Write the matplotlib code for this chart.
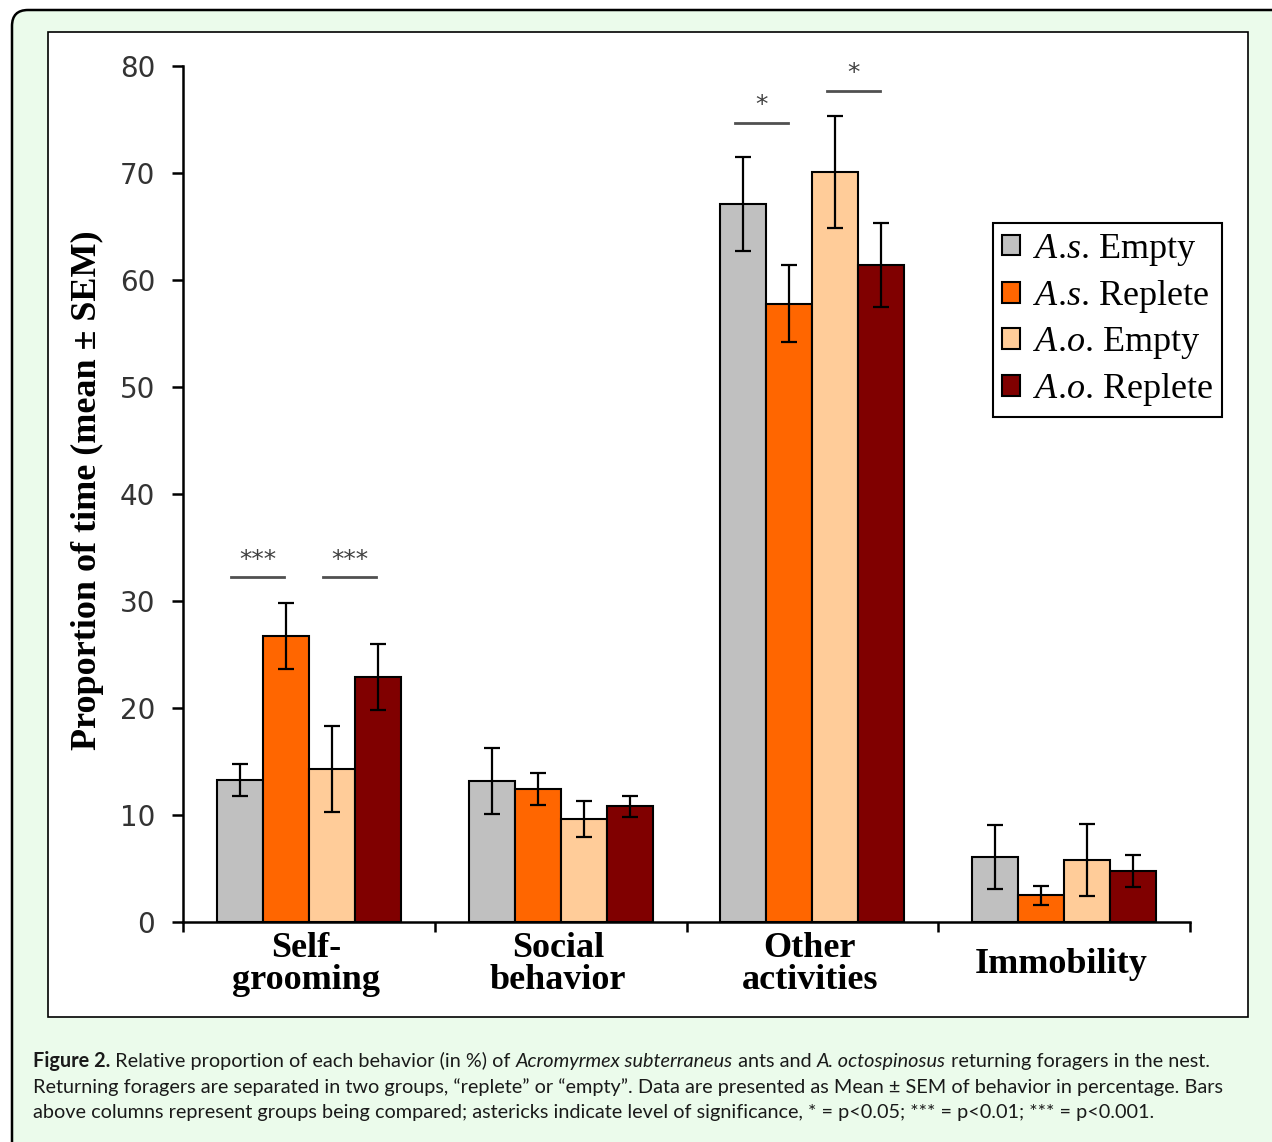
import numpy as np
import matplotlib.pyplot as plt
from matplotlib.patches import FancyBboxPatch, Rectangle
from matplotlib.transforms import IdentityTransform, blended_transform_factory

plt.rcParams['mathtext.fontset'] = 'custom'
plt.rcParams['mathtext.rm'] = 'Liberation Serif'
plt.rcParams['mathtext.it'] = 'Liberation Serif:italic'

# data
groups = ['Self-\ngrooming', 'Social\nbehavior', 'Other\nactivities', 'Immobility']
series = [r'$\mathit{A}$.$\mathit{s}$. Empty', r'$\mathit{A}$.$\mathit{s}$. Replete',
          r'$\mathit{A}$.$\mathit{o}$. Empty', r'$\mathit{A}$.$\mathit{o}$. Replete']
colors = ['#c0c0c0', '#ff6600', '#ffcc99', '#800000']

as_empty = [13.3, 13.2, 67.1, 6.1]
as_empty_err = [1.5, 3.1, 4.4, 3.0]
as_replete = [26.7, 12.4, 57.8, 2.5]
as_replete_err = [3.1, 1.5, 3.6, 0.9]
ao_empty = [14.3, 9.6, 70.1, 5.8]
ao_empty_err = [4.0, 1.7, 5.2, 3.4]
ao_replete = [22.9, 10.8, 61.4, 4.8]
ao_replete_err = [3.1, 1.0, 3.9, 1.5]

# significance bars: group, first bar, second bar, height, stars
sig_group = [0, 0, 2, 2]
sig_first = [0, 2, 0, 2]
sig_second = [1, 3, 1, 3]
sig_height = [32.2, 32.2, 74.7, 77.7]
sig_label = ['***', '***', '*', '*']

W, H = 1272, 1142
fig = plt.figure(figsize=(W / 100, H / 100), dpi=100)
fig.patch.set_facecolor('white')

bg = FancyBboxPatch((12, -40), 1320, H - 10 + 40,
                    boxstyle='round,pad=0,rounding_size=16',
                    transform=IdentityTransform(),
                    facecolor='#ebfbeb', edgecolor='black', lw=1.8, zorder=-3)
fig.add_artist(bg)
panel = Rectangle((48 / W, 1 - 1017 / H), 1200 / W, 985 / H,
                  transform=fig.transFigure, facecolor='white',
                  edgecolor='black', lw=1.2, zorder=-2)
fig.add_artist(panel)

ax = fig.add_axes([183 / W, 1 - 922 / H, 1007 / W, 856 / H])
ax.patch.set_visible(False)

vals = [as_empty, as_replete, ao_empty, ao_replete]
errs = [as_empty_err, as_replete_err, ao_empty_err, ao_replete_err]
x = np.arange(len(groups))
bw = 0.1825
for i in range(4):
    pos = x + (i - 1.5) * bw
    ax.bar(pos, vals[i], bw, yerr=errs[i], color=colors[i],
           edgecolor='black', linewidth=1.5, label=series[i], zorder=2,
           error_kw=dict(ecolor='black', elinewidth=1.6, capsize=6,
                         capthick=1.6, zorder=3))

for k in range(len(sig_group)):
    c1 = x[sig_group[k]] + (sig_first[k] - 1.5) * bw
    c2 = x[sig_group[k]] + (sig_second[k] - 1.5) * bw
    mid = (c1 + c2) / 2 - 0.02
    ax.plot([mid - 0.105, mid + 0.105], [sig_height[k], sig_height[k]],
            color='#505050', lw=2, clip_on=False)
    ax.text(mid, sig_height[k] + 0.5, sig_label[k], ha='center', va='bottom',
            fontsize=18, color='#404040', clip_on=False)

ax.set_xlim(-0.5, 3.5)
ax.set_ylim(0, 80)
ax.spines['top'].set_visible(False)
ax.spines['right'].set_visible(False)
ax.spines['left'].set_linewidth(1.8)
ax.spines['bottom'].set_linewidth(1.8)
ax.set_yticks(np.arange(0, 81, 10))
ax.set_xticks(np.arange(-0.5, 3.6, 1.0))
ax.set_xticklabels([])
ax.tick_params(axis='y', length=8, width=1.8, pad=12, labelsize=20,
               labelcolor='#333333')
ax.tick_params(axis='x', length=7, width=1.8)

trans = blended_transform_factory(ax.transData, ax.transAxes)
for g in range(len(groups)):
    ax.text(x[g] - 0.01, -0.05, groups[g], transform=trans, ha='center',
            va='center', family='Liberation Serif', fontweight='bold',
            fontsize=26, linespacing=0.95)

ax.set_ylabel('Proportion of time (mean ± SEM)', family='Liberation Serif',
              fontweight='bold', fontsize=26)
ax.yaxis.set_label_coords(-0.078, 0.505)

leg = ax.legend(loc='upper right', bbox_to_anchor=(1.0318, 0.8166),
                borderaxespad=0, prop=dict(family='Liberation Serif', size=26),
                frameon=True, fancybox=False, edgecolor='black', framealpha=1,
                handlelength=0.5, handleheight=0.5, handletextpad=0.35,
                labelspacing=0.28, borderpad=0.25)
leg.get_frame().set_linewidth(1.5)

# caption with mixed styles
renderer = fig.canvas.get_renderer()


def advance(txt, size, weight, style):
    t1 = fig.text(0, 0, txt + 'x', fontsize=size, family='Lato',
                  fontweight=weight, fontstyle=style)
    t2 = fig.text(0, 0, 'x', fontsize=size, family='Lato',
                  fontweight=weight, fontstyle=style)
    w = t1.get_window_extent(renderer).width - t2.get_window_extent(renderer).width
    t1.remove()
    t2.remove()
    return w


cap1 = [('Figure 2.', 'bold', 'normal'),
        (' Relative proportion of each behavior (in %) of ', 'normal', 'normal'),
        ('Acromyrmex subterraneus', 'normal', 'italic'),
        (' ants and ', 'normal', 'normal'),
        ('A. octospinosus', 'normal', 'italic'),
        (' returning foragers in the nest.', 'normal', 'normal')]
cap2 = [('Returning foragers are separated in two groups, \u201creplete\u201d or '
         '\u201cempty\u201d. Data are presented as Mean \u00b1 SEM of behavior in '
         'percentage. Bars', 'normal', 'normal')]
cap3 = [('above columns represent groups being compared; astericks indicate level '
         'of significance, * = p<0.05; *** = p<0.01; *** = p<0.001.',
         'normal', 'normal')]

size = 14.0
size = size * 1194 / advance(cap2[0][0], size, 'normal', 'normal')

for runs, base in [(cap1, 1067), (cap2, 1093), (cap3, 1118)]:
    px = 33
    for txt, weight, style in runs:
        fig.text(px / W, 1 - base / H, txt, fontsize=size, family='Lato',
                 fontweight=weight, fontstyle=style, va='baseline',
                 color='#1a1a1a')
        px = px + advance(txt, size, weight, style)

fig.savefig('out.png', dpi=100)
